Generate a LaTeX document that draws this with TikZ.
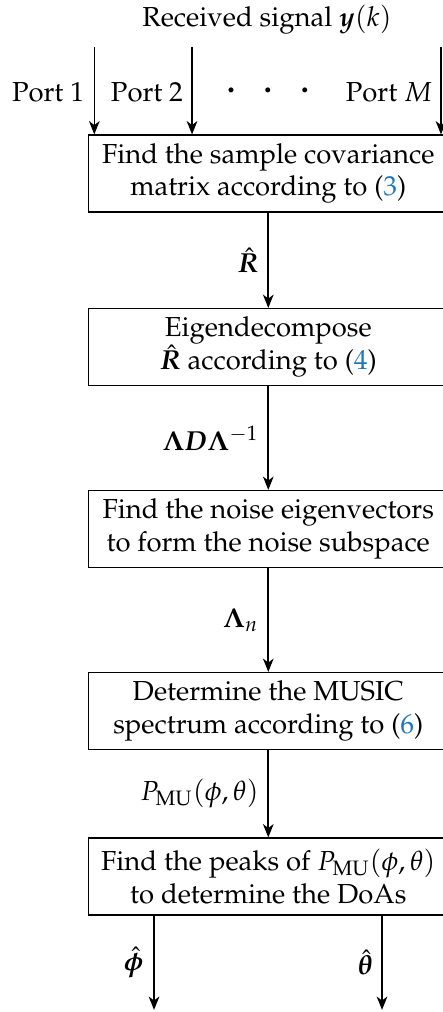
\documentclass[tikz,border=0pt]{standalone}
\usepackage{amsmath,amssymb}
\usepackage[T1]{fontenc}
\usepackage{mathpazo}
\usepackage{bm}
\usepackage{xcolor}
\usepackage{tikz}
\usetikzlibrary{calc, arrows.meta, positioning}

\definecolor{refblue}{RGB}{31,119,190}
\newcommand{\eqnref}[1]{(\textcolor{refblue}{#1})}

\begin{document}
\begin{tikzpicture}[
    every node/.style={font=\fontsize{10.3}{12.2}\selectfont},
    arr/.style={-{Stealth[length=5pt,width=4pt,inset=1.5pt]}, semithick},
    stepbox/.style={draw, line width=0.45pt, minimum width=4.73cm, minimum height=1.015cm,
      align=center, inner sep=2pt},
  ]
  % page frame
  \useasboundingbox (0,0) rectangle (5.826,-13.338);

  % Input ports
  \node (title) at (3.52,-0.264) {Received signal $\bm{y}(k)$};
  \node (port1) at (0.633,-1.213) {Port 1};
  \node (port2) at (1.937,-1.213) {Port 2};
  \node (dots) at (3.532,-1.19) {\large\textbf{.}\hspace{0.38cm}\textbf{.}\hspace{0.38cm}\textbf{.}};
  \node (portM) at (5.127,-1.213) {Port $M$};

  % Processing steps
  \node[stepbox] (cov) at (3.536,-2.287) {Find the sample covariance\\ matrix according to \eqnref{3}};
  \node[stepbox] (eig) at (3.536,-4.574) {Eigendecompose\\ $\hat{\bm{R}}$ according to \eqnref{4}};
  \node[stepbox] (noise) at (3.536,-6.972) {Find the noise eigenvectors\\ to form the noise subspace};
  \node[stepbox] (spec) at (3.536,-9.371) {Determine the MUSIC\\ spectrum according to \eqnref{6}};
  \node[stepbox] (peaks) at (3.536,-11.552) {Find the peaks of $P_{\mathrm{MU}}(\phi,\theta)$\\ to determine the DoAs};

  % Port arrows
  \coordinate (in1) at (1.243,-0.619);
  \coordinate (in2) at (2.531,-0.619);
  \coordinate (inM) at (5.812,-0.619);
  \draw[arr] (in1) -- (in1 |- cov.north);
  \draw[arr] (in2) -- (in2 |- cov.north);
  \draw[arr] (inM) -- (inM |- cov.north);

  % Flow between steps
  \draw[arr] (cov) -- node[left] {$\hat{\bm{R}}$} (eig);
  \draw[arr] (eig) -- node[left] {$\bm{\Lambda}\bm{D}\bm{\Lambda}^{-1}$} (noise);
  \draw[arr] (noise) -- node[left] {$\bm{\Lambda}_n$} (spec);
  \draw[arr] (spec) -- node[left] {$P_{\mathrm{MU}}(\phi,\theta)$} (peaks);

  % Outputs
  \coordinate (outphi) at (2.03,-13.31);
  \coordinate (outtheta) at (5.035,-13.31);
  \draw[arr] (outphi |- peaks.south) -- node[left] {$\hat{\bm{\phi}}$} (outphi);
  \draw[arr] (outtheta |- peaks.south) -- node[left] {$\hat{\bm{\theta}}$} (outtheta);
\end{tikzpicture}
\end{document}
